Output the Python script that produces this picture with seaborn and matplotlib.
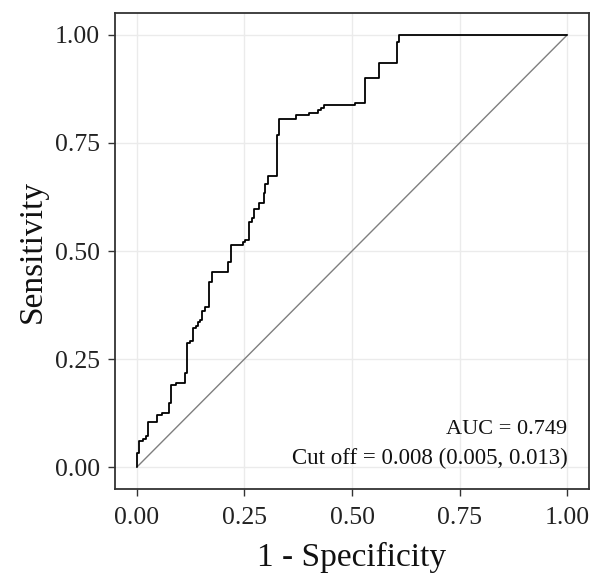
import matplotlib
matplotlib.use("Agg")
import matplotlib.pyplot as plt
import seaborn as sns
import pandas as pd

# ROC curve vertices (1 - specificity, sensitivity)
fpr = [0.000, 0.000, 0.005, 0.015, 0.021, 0.027, 0.047, 0.058, 0.075, 0.079,
       0.091, 0.112, 0.118, 0.125, 0.132, 0.137, 0.142, 0.147, 0.152, 0.158,
       0.169, 0.174, 0.213, 0.219, 0.246, 0.252, 0.262, 0.267, 0.272, 0.284,
       0.295, 0.299, 0.305, 0.326, 0.330, 0.370, 0.401, 0.422, 0.427, 0.434,
       0.508, 0.531, 0.562, 0.605, 0.610, 1.000]
tpr = [0.000, 0.033, 0.060, 0.065, 0.073, 0.104, 0.121, 0.125, 0.148, 0.191,
       0.196, 0.217, 0.288, 0.292, 0.322, 0.327, 0.336, 0.340, 0.362, 0.371,
       0.429, 0.452, 0.475, 0.514, 0.520, 0.526, 0.568, 0.576, 0.597, 0.612,
       0.634, 0.656, 0.673, 0.769, 0.804, 0.814, 0.820, 0.826, 0.831, 0.837,
       0.841, 0.900, 0.934, 0.982, 1.000, 1.000]

diag = [0.0, 1.0]
ticks = [0.0, 0.25, 0.5, 0.75, 1.0]
tick_labels = ["0.00", "0.25", "0.50", "0.75", "1.00"]
auc_text = "AUC = 0.749"
cutoff_text = "Cut off = 0.008 (0.005, 0.013)"

roc = pd.DataFrame({"fpr": fpr, "tpr": tpr})

sns.set_theme(style="whitegrid")
plt.rcParams["font.family"] = ["Liberation Serif", "DejaVu Serif"]

fig = plt.figure(figsize=(6.0, 5.81), dpi=100)
ax = fig.add_axes([0.1917, 0.1583, 0.79, 0.8193])

sns.lineplot(x=diag, y=diag, ax=ax, color="#7f7f7f", linewidth=1.0,
             estimator=None, sort=False)
sns.lineplot(data=roc, x="fpr", y="tpr", ax=ax, color="black", linewidth=1.3,
             drawstyle="steps-post", estimator=None, sort=False)

ax.set_xlim(-0.05, 1.05)
ax.set_ylim(-0.05, 1.05)
ax.set_xticks(ticks)
ax.set_yticks(ticks)
ax.set_xticklabels(tick_labels)
ax.set_yticklabels(tick_labels)
ax.grid(True, color="#ebebeb", linewidth=1.0)
ax.set_axisbelow(True)
for s in ax.spines.values():
    s.set_color("#333333")
    s.set_linewidth(1.3)
ax.tick_params(axis="both", which="major", length=5, width=1.0, color="#333333",
               labelsize=18.5, labelcolor="#222222", bottom=True, left=True)
ax.tick_params(axis="x", pad=8)
ax.tick_params(axis="y", pad=6)

ax.set_xlabel("1 - Specificity", fontsize=24, color="#111111", labelpad=9)
ax.set_ylabel("Sensitivity", fontsize=24, color="#111111", labelpad=5)

ax.text(1.0, 0.078, auc_text, ha="right", va="baseline", fontsize=16, color="#111111")
ax.text(1.0, 0.008, cutoff_text, ha="right", va="baseline", fontsize=16.5, color="#111111")

fig.savefig("out.png", dpi=100)
